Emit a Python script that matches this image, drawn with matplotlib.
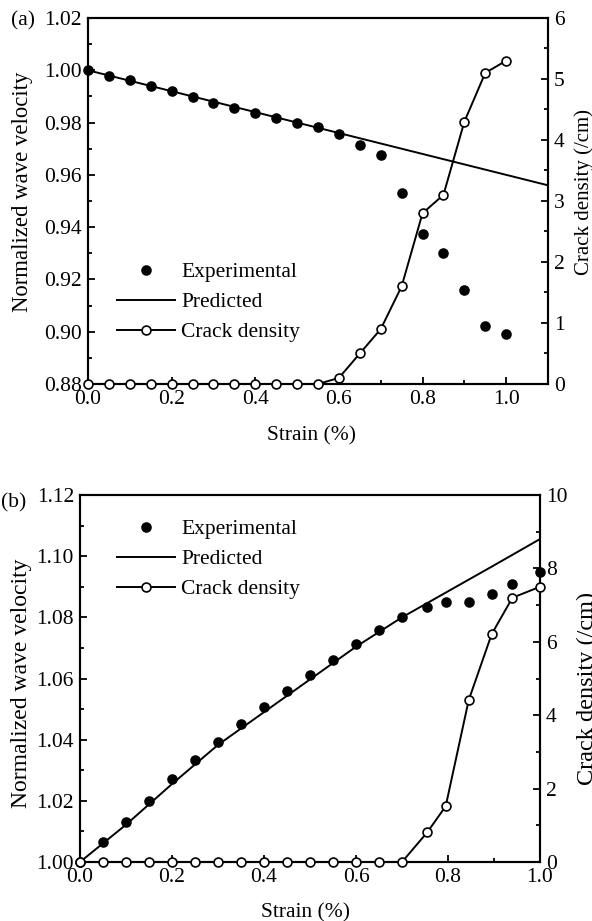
import matplotlib
matplotlib.use("Agg")
import matplotlib.pyplot as plt
from matplotlib.ticker import MultipleLocator, FormatStrFormatter
from matplotlib.lines import Line2D

plt.rcParams['font.family'] = ['Liberation Serif', 'DejaVu Serif']
FS = 15.5
plt.rcParams['font.size'] = FS

# ---------------- Panel (a) data ----------------
a_strain = [0.0, 0.05, 0.10, 0.15, 0.20, 0.25, 0.30, 0.35, 0.40, 0.45, 0.50,
            0.55, 0.60, 0.65, 0.70, 0.75, 0.80, 0.85, 0.90, 0.95, 1.00]
a_exp = [1.000, 0.9978, 0.9962, 0.9940, 0.9922, 0.9899, 0.9876, 0.9857, 0.9838,
         0.9819, 0.9797, 0.9782, 0.9756, 0.9714, 0.9676, 0.9532, 0.9374, 0.9300,
         0.9160, 0.9023, 0.8990]
a_pred_x = [0.0, 1.1]
a_pred_y = [1.000, 0.956]
a_crack = [0, 0, 0, 0, 0, 0, 0, 0, 0, 0, 0,
           0, 0.1, 0.5, 0.9, 1.6, 2.8, 3.1, 4.3, 5.1, 5.3]

# ---------------- Panel (b) data ----------------
b_strain = [0.0, 0.05, 0.10, 0.15, 0.20, 0.25, 0.30, 0.35, 0.40, 0.45, 0.50,
            0.55, 0.60, 0.65, 0.70, 0.755, 0.795, 0.845, 0.895, 0.94, 1.00]
b_exp = [1.000, 1.0064, 1.0131, 1.0200, 1.0270, 1.0334, 1.0392, 1.0451, 1.0506,
         1.0558, 1.0612, 1.0661, 1.0713, 1.0759, 1.0802, 1.0833, 1.0851, 1.0849,
         1.0876, 1.0908, 1.0949]
b_pred_x = [0.0, 0.1, 0.2, 0.3, 0.4, 0.5, 0.6, 0.7, 0.8, 0.9, 1.0]
b_pred_y = [1.000, 1.0122, 1.0255, 1.0383, 1.0490, 1.0597, 1.0704, 1.0800,
            1.0885, 1.0970, 1.1056]
b_crack = [0, 0, 0, 0, 0, 0, 0, 0, 0, 0, 0,
           0, 0, 0, 0, 0.81, 1.52, 4.41, 6.21, 7.20, 7.50]

W, H = 592, 921
fig = plt.figure(figsize=(W / 100, H / 100), dpi=100)


def px_axes(left, top, right, bottom):
    return fig.add_axes([left / W, 1 - bottom / H, (right - left) / W, (bottom - top) / H])


def style(ax, twin):
    for a in (ax, twin):
        for s in a.spines.values():
            s.set_linewidth(1.5)
    ax.tick_params(which='both', direction='in', width=1.3, labelsize=FS)
    ax.tick_params(which='major', length=5)
    ax.tick_params(which='minor', length=3)
    ax.tick_params(axis='x', which='both', top=False, pad=4)
    ax.tick_params(axis='y', which='both', right=False, pad=4.3)
    twin.tick_params(which='both', direction='in', width=1.3, labelsize=FS, pad=4.3)
    twin.tick_params(which='major', length=5)
    twin.tick_params(which='minor', length=3)
    twin.tick_params(axis='x', which='both', top=False)


ms_f = 6.6
ms_o = 6.4

def draw(ax, strain, exp, px, py, crack):
    tw = ax.twinx()
    ax.plot(px, py, color='black', lw=1.4, zorder=2)
    ax.plot(strain, exp, 'o', color='black', ms=ms_f, zorder=3, clip_on=False)
    tw.plot(strain, crack, '-o', color='black', lw=1.4, ms=ms_o,
            markerfacecolor='white', markeredgecolor='black', markeredgewidth=1.2,
            zorder=4, clip_on=False)
    return tw


handles = [
    Line2D([], [], ls='none', marker='o', color='black', ms=ms_f),
    Line2D([], [], color='black', lw=1.4),
    Line2D([], [], color='black', lw=1.4, marker='o', ms=ms_o,
           markerfacecolor='white', markeredgewidth=1.2),
]
labels = ['Experimental', 'Predicted', 'Crack density']

# ---------- (a) ----------
axa = px_axes(88, 18, 548, 384)
twa = draw(axa, a_strain, a_exp, a_pred_x, a_pred_y, a_crack)
axa.set_xlim(0, 1.1)
axa.set_ylim(0.88, 1.02)
twa.set_ylim(0, 6)
axa.xaxis.set_major_locator(MultipleLocator(0.2))
axa.xaxis.set_minor_locator(MultipleLocator(0.1))
axa.xaxis.set_major_formatter(FormatStrFormatter('%.1f'))
axa.yaxis.set_major_locator(MultipleLocator(0.02))
axa.yaxis.set_minor_locator(MultipleLocator(0.01))
axa.yaxis.set_major_formatter(FormatStrFormatter('%.2f'))
twa.yaxis.set_major_locator(MultipleLocator(1))
twa.yaxis.set_minor_locator(MultipleLocator(0.5))
style(axa, twa)
axa.set_xlabel('Strain (%)', fontsize=FS)
axa.xaxis.set_label_coords(0.485, -0.115)
axa.set_ylabel('Normalized wave velocity', fontsize=16.4)
axa.yaxis.set_label_coords(-0.12, 0.525)
twa.set_ylabel('Crack density (/cm)', fontsize=15)
twa.yaxis.set_label_coords(1.058, 0.525)
fig.text(11 / W, 1 - 21 / H, '(a)', fontsize=FS, va='center', ha='left')

axa.legend(handles, labels, loc='upper left', bbox_to_anchor=(0.044, 0.356),
           frameon=False, fontsize=FS, handlelength=2.7, handletextpad=0.28,
           labelspacing=0.46, borderaxespad=0)

# ---------- (b) ----------
axb = px_axes(80, 495, 540, 862)
twb = draw(axb, b_strain, b_exp, b_pred_x, b_pred_y, b_crack)
axb.set_xlim(0, 1.0)
axb.set_ylim(1.00, 1.12)
twb.set_ylim(0, 10)
axb.xaxis.set_major_locator(MultipleLocator(0.2))
axb.xaxis.set_minor_locator(MultipleLocator(0.1))
axb.xaxis.set_major_formatter(FormatStrFormatter('%.1f'))
axb.yaxis.set_major_locator(MultipleLocator(0.02))
axb.yaxis.set_minor_locator(MultipleLocator(0.01))
axb.yaxis.set_major_formatter(FormatStrFormatter('%.2f'))
twb.yaxis.set_major_locator(MultipleLocator(2))
twb.yaxis.set_minor_locator(MultipleLocator(1))
style(axb, twb)
axb.set_xlabel('Strain (%)', fontsize=FS)
axb.xaxis.set_label_coords(0.49, -0.112)
axb.set_ylabel('Normalized wave velocity', fontsize=17)
axb.yaxis.set_label_coords(-0.104, 0.488)
twb.set_ylabel('Crack density (/cm)', fontsize=17.5)
twb.yaxis.set_label_coords(1.080, 0.473)
fig.text(1 / W, 1 - 503 / H, '(b)', fontsize=FS, va='center', ha='left')

axb.legend(handles, labels, loc='upper left', bbox_to_anchor=(0.062, 0.957),
           frameon=False, fontsize=FS, handlelength=2.7, handletextpad=0.28,
           labelspacing=0.46, borderaxespad=0)

fig.savefig('out.png', dpi=100)
